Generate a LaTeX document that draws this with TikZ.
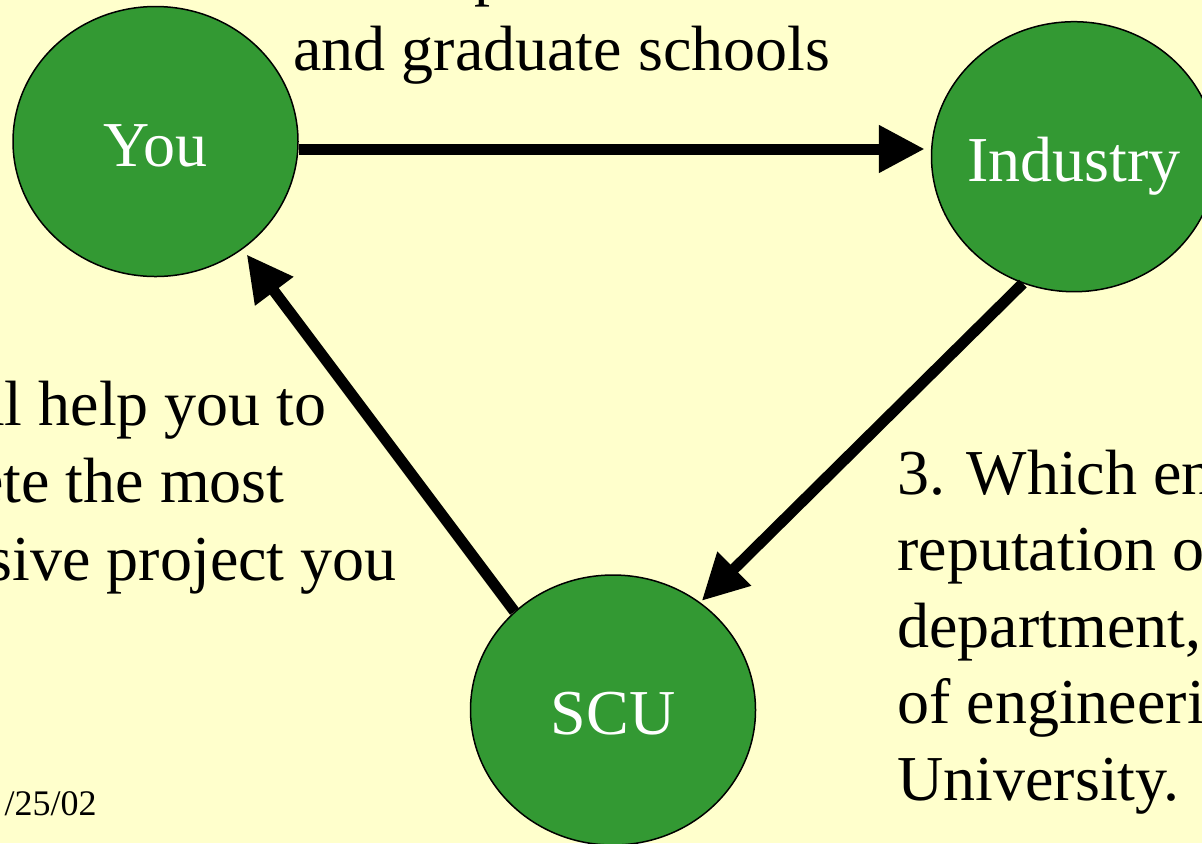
\documentclass[tikz,border=0pt]{standalone}
\usepackage{fontspec}
\setmainfont{Liberation Serif}
\usetikzlibrary{shapes.geometric,arrows.meta}
\definecolor{slidebg}{HTML}{FFFFCC}
\definecolor{blobgreen}{HTML}{339933}
\newcommand{\partyname}[1]{\makebox[0pt]{#1}}
\tikzset{
  party/.style={ellipse,draw=black,line width=0.75pt,fill=blobgreen,text=white,
    minimum width=142.5pt,minimum height=135pt,inner sep=0pt,
    text height=25.5pt,text depth=1pt,font=\fontsize{32pt}{38pt}\selectfont},
  say/.style={inner sep=0pt,font=\fontsize{32pt}{38pt}\selectfont},
  flow/.style={line width=5.5pt,-{Triangle[length=23pt,width=22.5pt]}}
}
\begin{document}
\begin{tikzpicture}[x=0.5pt,y=-0.5pt]
\useasboundingbox (0,0) rectangle (1202,843);
\clip (0,0) rectangle (1202,843);
\fill[slidebg] (0,0) rectangle (1202,843);
\node[party] (You) at (155.5,141.5) {\partyname{You}};
\node[party] (Industry) at (1074,156.7) {\partyname{Industry}};
\node[party] (SCU) at (613,710) {\partyname{SCU}};
\draw[flow,shorten >=3pt] (You.-3) -- (You.-3 -| Industry.west);
\draw[flow,shorten >=1pt] (Industry.248) -- (SCU.51);
\draw[flow,shorten >=3.3pt] (SCU.135) -- (You.-51);
% text cut off by the slide edges
\node[say,anchor=base west] (topcut) at (474,-7) {p};
\node[say,anchor=base west] (top) at (293,70) {and graduate schools};
\node[say,anchor=base east] (left1) at (327,425) {ll help you to};
\node[say,anchor=base east] (left2) at (285,502) {ete the most};
\node[say,anchor=base east] (left3) at (397,580) {sive project you};
\node[say,anchor=base west] (right1) at (897,494) {3. Which en};
\node[say,anchor=base west] (right2) at (897,570) {reputation o};
\node[say,anchor=base west] (right3) at (897,647) {department,};
\node[say,anchor=base west] (right4) at (897,723) {of engineeri};
\node[say,anchor=base west] (right5) at (897,800) {University.};
\node[inner sep=0pt,anchor=base east,font=\fontsize{18pt}{21pt}\selectfont] (date) at (97,815) {/25/02};
\end{tikzpicture}
\end{document}
